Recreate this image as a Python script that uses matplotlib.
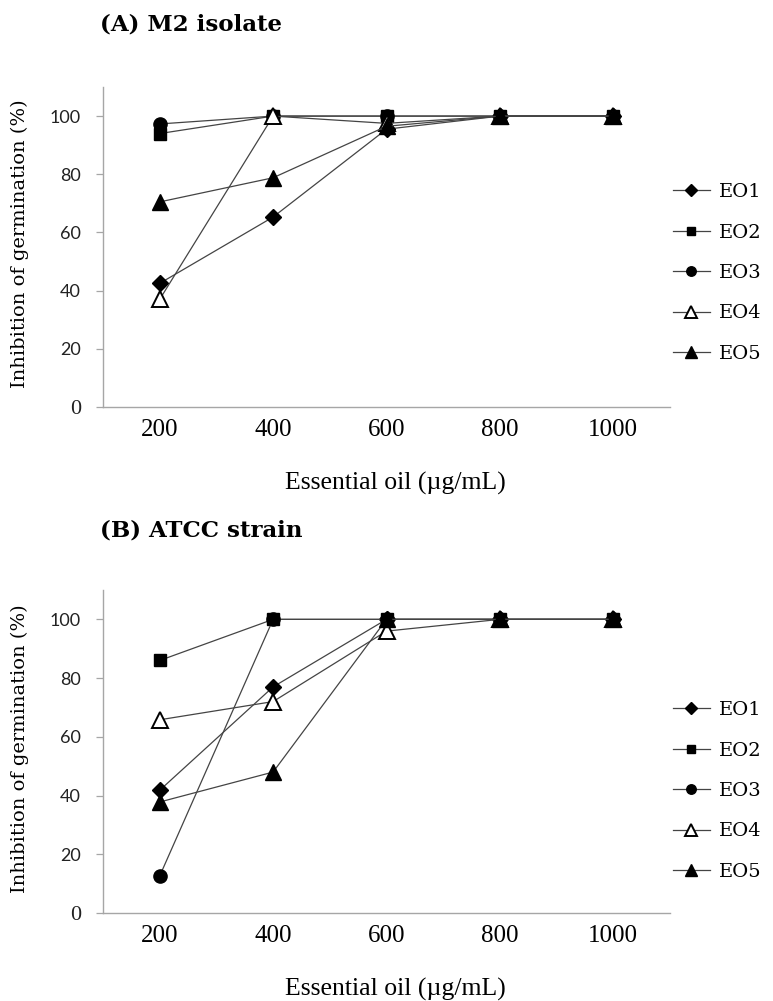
import numpy as np
import matplotlib
matplotlib.use("Agg")
import matplotlib.pyplot as plt

# ── Data ──────────────────────────────────────────────────────────────────────
doses = ["200", "400", "600", "800", "1000"]
series_names = ["EO1", "EO2", "EO3", "EO4", "EO5"]

m2_eo1 = [42.5, 65.3, 95.5, 100, 100]
m2_eo2 = [94, 100, 100, 100, 100]
m2_eo3 = [97.3, 100, 100, 100, 100]
m2_eo4 = [37, 100, 97.5, 100, 100]
m2_eo5 = [70.5, 78.8, 96.5, 100, 100]

atcc_eo1 = [41.8, 77, 100, 100, 100]
atcc_eo2 = [86, 100, 100, 100, 100]
atcc_eo3 = [12.6, 100, 100, 100, 100]
atcc_eo4 = [65.8, 72, 96, 100, 100]
atcc_eo5 = [37.8, 48, 100, 100, 100]

y_ticks = [0, 20, 40, 60, 80, 100]

panels = [
    ("(A) M2 isolate", [m2_eo1, m2_eo2, m2_eo3, m2_eo4, m2_eo5]),
    ("(B) ATCC strain", [atcc_eo1, atcc_eo2, atcc_eo3, atcc_eo4, atcc_eo5]),
]

# ── Styles ────────────────────────────────────────────────────────────────────
LINE_COLOR = "#444444"
SPINE_COLOR = "#a6a6a6"
styles = [
    dict(marker="D", ms=8.5, mfc="black", mec="black"),
    dict(marker="s", ms=8.5, mfc="black", mec="black"),
    dict(marker="o", ms=9.5, mfc="black", mec="black"),
    dict(marker="^", ms=11.5, mfc="white", mec="black", mew=1.4),
    dict(marker="^", ms=11.5, mfc="black", mec="black"),
]

W, H = 773, 1001
fig = plt.figure(figsize=(W / 100, H / 100), dpi=100)

# pixel layout of each panel: (axes top, axes bottom, title y, legend centre y)
layout = [(87, 407, 25, 273), (590, 913, 530, 791)]
ax_left, ax_right = 103, 670

x = np.arange(len(doses))
for (title, data), (top, bottom, ty, ly) in zip(panels, layout):
    ax = fig.add_axes([
        ax_left / W, 1 - bottom / H,
        (ax_right - ax_left) / W, (bottom - top) / H,
    ])
    for name, vals, st in zip(series_names, data, styles):
        ax.plot(x, vals, color=LINE_COLOR, lw=0.9, label=name, **st)

    ax.set_xlim(-0.5, len(doses) - 0.5)
    ax.set_ylim(0, 110)
    ax.set_xticks(x, labels=doses)
    ax.set_yticks(y_ticks, labels=[str(v) for v in y_ticks])

    for side in ["top", "right"]:
        ax.spines[side].set_visible(False)
    for side in ["left", "bottom"]:
        ax.spines[side].set_color(SPINE_COLOR)
        ax.spines[side].set_linewidth(1.0)

    ax.tick_params(axis="x", length=0, pad=9)
    ax.tick_params(axis="y", direction="out", length=5, width=0.9,
                   color=SPINE_COLOR, pad=11)
    for lab in ax.get_xticklabels():
        lab.set_fontfamily("Liberation Serif")
        lab.set_fontsize(18)
    for lab in ax.get_yticklabels():
        lab.set_fontfamily("Lato")
        lab.set_fontsize(13)
        lab.set_color("#222222")
    # the zero label is set in the serif face in the original
    zero = ax.yaxis.get_major_ticks()[0].label1
    zero.set_fontfamily("Liberation Serif")
    zero.set_fontsize(16)

    ax.set_xlabel("Essential oil (µg/mL)", fontfamily="Liberation Serif",
                  fontsize=18.5, va="center")
    ax.xaxis.set_label_coords(0.515, -76 / (bottom - top))
    ax.set_ylabel("Inhibition of germination (%)", fontfamily="DejaVu Serif",
                  fontsize=14, va="center")
    ax.yaxis.set_label_coords((20 - ax_left) / (ax_right - ax_left), 0.51)

    fig.text(100 / W, 1 - ty / H, title, fontfamily="DejaVu Serif",
             fontweight="bold", fontsize=16.5, va="center", ha="left")

    ax.legend(loc="center left", bbox_to_anchor=(673 / W, 1 - ly / H),
              bbox_transform=fig.transFigure, frameon=False, borderpad=0,
              borderaxespad=0, handlelength=1.9, handletextpad=0.45,
              labelspacing=1.15, markerscale=0.72,
              prop={"family": "DejaVu Serif", "size": 14})

fig.savefig("out.png", dpi=100)
